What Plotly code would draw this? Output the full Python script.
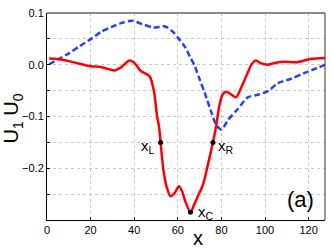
import plotly.graph_objects as go

red_x = [1, 5, 10, 15, 20, 24, 28, 31, 34, 37.8, 40, 43, 47, 49, 50.5, 51.4, 52.1, 53.3, 54.8, 56.7,
         58.5, 60.5, 62, 63.5, 65.8, 67.5, 69.2, 71.5, 73.8, 76.1, 77.6, 79, 80.5, 82.1, 84, 86.7,
         89, 92, 94, 95.8, 98, 101, 105, 108.6, 114.7, 120.8, 127.6]
red_y = [0.012, 0.011, 0.007, 0.002, -0.003, -0.004, -0.008, -0.011, -0.005, 0.008, 0.004, -0.012,
         -0.022, -0.05, -0.1, -0.12, -0.15, -0.2, -0.235, -0.254, -0.248, -0.235, -0.245, -0.265,
         -0.285, -0.27, -0.254, -0.232, -0.193, -0.15, -0.118, -0.08, -0.058, -0.052, -0.056, -0.063,
         -0.045, -0.016, 0.002, 0.008, 0.003, 0.0, 0.004, 0.006, 0.005, 0.011, 0.013]

blue_x = [1, 5, 10, 15, 20.6, 25, 29.7, 34.3, 38.9, 43.4, 48.8, 54.1, 57.9, 60.5, 63.2, 65.5, 67.8,
          70, 72.3, 75.4, 77.7, 80, 83, 87.6, 92.1, 96.7, 101.3, 105.8, 111.9, 118, 124.1, 127.9]
blue_y = [0.001, 0.01, 0.022, 0.036, 0.051, 0.064, 0.073, 0.081, 0.085, 0.079, 0.072, 0.074, 0.063,
          0.05, 0.035, 0.016, -0.003, -0.028, -0.054, -0.092, -0.117, -0.125, -0.107, -0.085, -0.063,
          -0.058, -0.051, -0.036, -0.027, -0.016, -0.006, 0.001]

pt_x = [52.1, 76.1, 65.8]
pt_y = [-0.15, -0.15, -0.285]
pt_labels = ["x<sub>L</sub>", "x<sub>R</sub>", "x<sub>C</sub>"]

x_ticks = [0, 20, 40, 60, 80, 100, 120]
y_ticks = [0.1, 0.0, -0.1, -0.2]
y_text = ["0.1", "0.0", "\u22120.1", "\u22120.2"]

fig = go.Figure()
fig.add_trace(go.Scatter(x=blue_x, y=blue_y, mode="lines", line=dict(color="#2440ff", width=2.5, dash="6px,3px", shape="spline", smoothing=0.8), hoverinfo="skip"))
fig.add_trace(go.Scatter(x=red_x, y=red_y, mode="lines", line=dict(color="#ff0000", width=2.5, shape="spline", smoothing=0.8), hoverinfo="skip"))
fig.add_trace(go.Scatter(x=pt_x, y=pt_y, mode="markers", marker=dict(color="black", size=5), hoverinfo="skip"))

font_f = "Liberation Sans, Arial, sans-serif"
fig.update_layout(
    width=332, height=248,
    margin=dict(l=47, r=7, t=9, b=28),
    paper_bgcolor="white", plot_bgcolor="white",
    showlegend=False,
    font=dict(family=font_f, size=11, color="black"),
    xaxis=dict(range=[0, 127.5], tickvals=x_ticks, showgrid=True, gridcolor="#c8c8c8", griddash="dot",
               gridwidth=1, zeroline=False, showline=True, linecolor="black", linewidth=1,
               ticks="inside", ticklen=3, tickcolor="black", tickfont=dict(size=11)),
    yaxis=dict(range=[-0.3, 0.1], tickvals=y_ticks, ticktext=y_text, showgrid=True, gridcolor="#c8c8c8",
               griddash="dot", gridwidth=1, zeroline=False, showline=True, linecolor="black", linewidth=1,
               ticks="inside", ticklen=3, tickcolor="black", tickfont=dict(size=11),
               minor=dict(dtick=0.05, tick0=0, showgrid=True, gridcolor="#c8c8c8", griddash="dot",
                          gridwidth=1, ticks="inside", ticklen=3, tickcolor="black")),
)

fig.add_shape(type="line", xref="paper", yref="paper", x0=0, x1=1, y0=1, y1=1, line=dict(color="#8a8a8a", width=2))
fig.add_shape(type="line", xref="paper", yref="paper", x0=1, x1=1, y0=0, y1=1, line=dict(color="#333333", width=1))

label_pos = [("right", -4, -4), ("left", 3, -4), ("left", 6, 0)]
for (xx, yy, t, (anc, sx, sy)) in zip(pt_x, pt_y, pt_labels, label_pos):
    fig.add_annotation(x=xx, y=yy, xref="x", yref="y", text=t, showarrow=False, xanchor=anc,
                       yanchor="middle", xshift=sx, yshift=sy, font=dict(size=15, family=font_f))

fig.add_annotation(xref="paper", yref="paper", x=(13 - 47) / 278, y=0.49,
                   text="U<sub>1</sub>\u00a0U<sub>0</sub>", xanchor="center", yanchor="middle",
                   textangle=-90, showarrow=False, font=dict(size=20, family=font_f))
fig.add_annotation(xref="paper", yref="paper", x=(198 - 47) / 278, y=-0.085, text="x", showarrow=False,
                   font=dict(size=20, family=font_f), xanchor="center", yanchor="middle")
fig.add_annotation(xref="paper", yref="paper", x=(300 - 47) / 278, y=0.1, text="(a)", showarrow=False,
                   font=dict(size=22, family=font_f), xanchor="center", yanchor="middle")

fig.write_html("out.html", config={"displayModeBar": False},
               post_script="document.body.style.margin='0';document.body.style.overflow='hidden';")
